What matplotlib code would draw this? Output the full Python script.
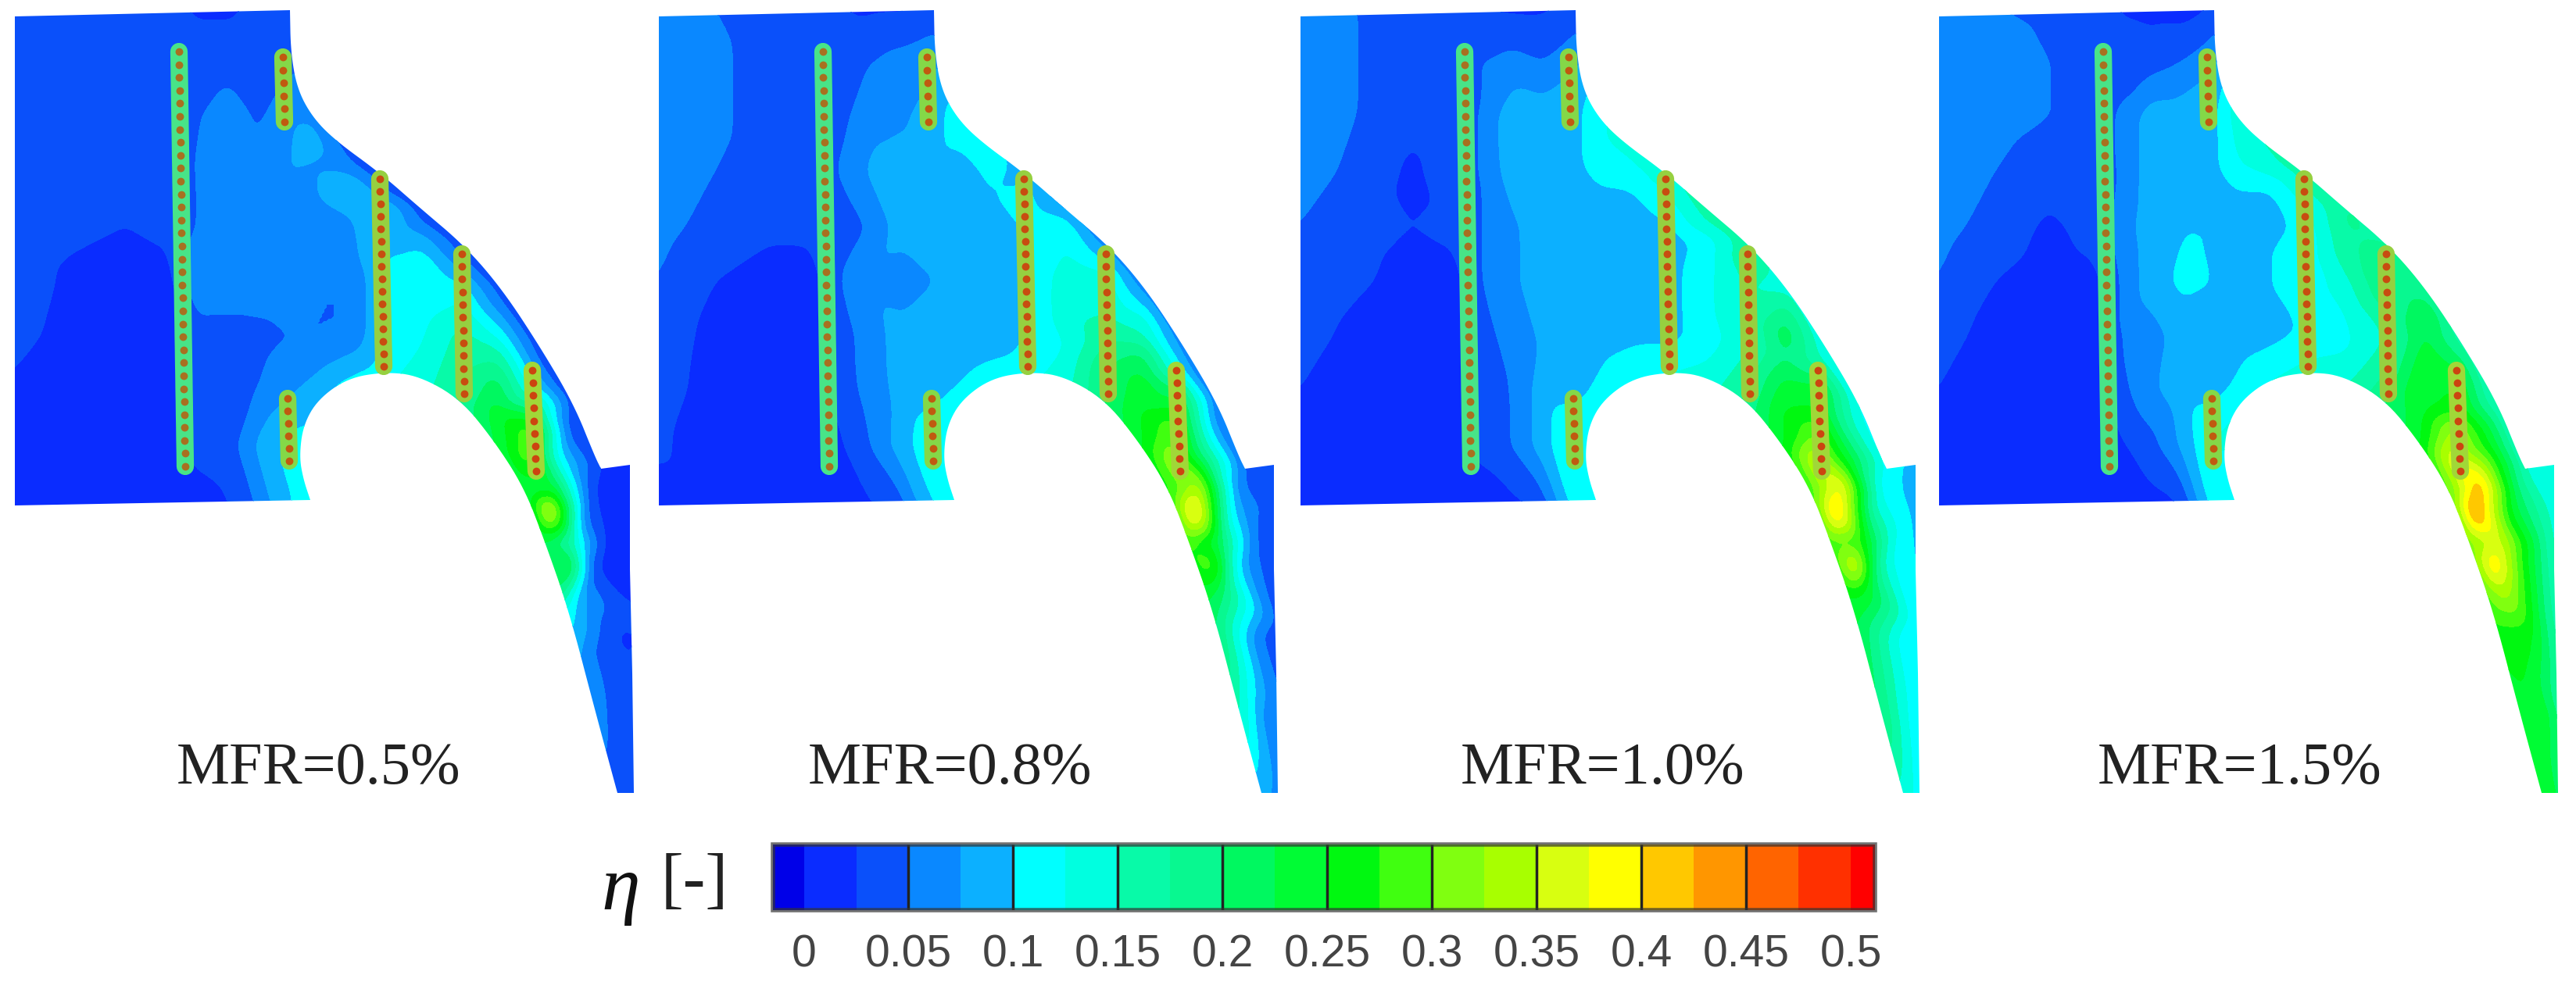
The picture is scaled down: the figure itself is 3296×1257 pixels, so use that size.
import numpy as np
import matplotlib
matplotlib.use('Agg')
import matplotlib.pyplot as plt
import matplotlib.tri as mtri
from matplotlib.colors import ListedColormap, BoundaryNorm
from matplotlib.patches import Polygon

# Cases
mfr_labels = ['MFR=0.5%', 'MFR=0.8%', 'MFR=1.0%', 'MFR=1.5%']
panel_offsets = [0, 824, 1645, 2462]
label_centers = [408, 1216, 2051, 2866]

# Colour bar
levels = [0, 0.025, 0.05, 0.075, 0.1, 0.125, 0.15, 0.175, 0.2, 0.225, 0.25,
          0.275, 0.3, 0.325, 0.35, 0.375, 0.4, 0.425, 0.45, 0.475, 0.5]
band_colors = ['#0a2cff', '#0a50fa', '#0a88ff', '#0cb0ff', '#00ffff', '#00ffe0',
               '#08faa8', '#08f890', '#00f860', '#00fc34', '#00f810', '#40ff10',
               '#80ff10', '#a8ff00', '#d8ff10', '#ffff00', '#ffc800', '#ff9600',
               '#ff6400', '#ff3000']
under_color = '#0000e8'
over_color = '#ff0000'
tick_values = [0, 0.05, 0.1, 0.15, 0.2, 0.25, 0.3, 0.35, 0.4, 0.45, 0.5]
tick_labels = ['0', '0.05', '0.1', '0.15', '0.2', '0.25', '0.3', '0.35', '0.4', '0.45', '0.5']

# Endwall outline, in pixels of the first panel: two curved sides and the corners between them
suction_side = [(371, 13), (372, 66), (380, 113), (399, 149), (428, 179), (487, 222),
                (536, 265), (595, 315), (643, 371), (691, 444), (734, 517), (761, 584), (769, 600)]
outlet_corners = [(806, 595), (806, 729), (809, 862), (811, 1015)]
pressure_side = [(790, 1015), (761, 908), (728, 782), (696, 690), (670, 623), (632, 564),
                 (589, 511), (536, 481), (493, 476), (445, 484), (407, 511), (388, 544),
                 (383, 584), (388, 613), (397, 640)]
inlet_corners = [(19, 647), (19, 21)]

# Sample positions: inlet block (columns, rows) and passage stations (suction, pressure end)
block_x = [15, 90, 160, 222, 250, 290, 330, 370]
block_y = [8, 80, 150, 220, 290, 360, 430, 500, 570, 655]
station_suction = [(399, 149), (445, 190), (490, 224), (540, 268), (595, 315), (643, 371),
                   (691, 444), (734, 517), (769, 600), (806, 660), (808, 800), (810, 910),
                   (811, 1018)]
station_pressure = [(400, 520), (445, 484), (493, 476), (540, 487), (589, 511), (632, 564),
                    (670, 623), (696, 690), (718, 755), (728, 782), (745, 845), (770, 935),
                    (790, 1018)]
across = [-0.04, 0.08, 0.18, 0.3, 0.45, 0.6, 0.8, 1.04]

# Effectiveness
block_05 = [[.04, .04, .035, .03, .02, .02, .03, .04],
            [.04, .04, .04, .04, .04, .04, .04, .045],
            [.04, .04, .03, .04, .045, .07, .045, .07],
            [.04, .04, .03, .04, .05, .065, .07, .075],
            [.04, .03, .025, .03, .05, .07, .05, .065],
            [.04, .02, .015, .02, .07, .065, .07, .07],
            [.035, .015, .012, .015, .04, .04, .04, .05],
            [.02, .012, .012, .015, .04, .04, .05, .07],
            [.015, .012, .012, .015, .03, .035, .08, .11],
            [.012, .012, .012, .012, .015, .02, .05, .1]]
passage_05 = [[.06, .09, .07, .065, .05, .05, .05, .1],
              [.03, .06, .11, .07, .065, .05, .05, .11],
              [.02, .05, .11, .1, .1, .1, .1, .12],
              [.025, .05, .09, .115, .125, .115, .125, .14],
              [.025, .045, .08, .115, .14, .16, .17, .18],
              [.025, .05, .08, .115, .17, .21, .24, .22],
              [.025, .045, .07, .11, .2, .3, .3, .22],
              [.025, .03, .04, .07, .12, .22, .38, .22],
              [.02, .02, .02, .03, .06, .13, .25, .2],
              [.01, .005, .005, .005, .015, .03, .08, .12],
              [.03, .02, .02, .025, .03, .04, .05, .08],
              [.03, .03, .03, .03, .035, .04, .05, .06],
              [.03, .03, .03, .03, .03, .03, .035, .04]]

block_08 = [[.05, .05, .04, .03, .025, .02, .02, .03],
            [.06, .055, .04, .04, .04, .05, .06, .07],
            [.065, .055, .04, .04, .04, .07, .07, .09],
            [.065, .05, .04, .04, .05, .08, .09, .09],
            [.06, .04, .03, .03, .045, .05, .09, .09],
            [.05, .025, .015, .02, .05, .07, .05, .075],
            [.045, .015, .012, .015, .04, .06, .09, .09],
            [.04, .012, .012, .015, .035, .06, .085, .09],
            [.03, .012, .012, .015, .02, .05, .09, .12],
            [.012, .012, .012, .012, .015, .02, .035, .1]]
passage_08 = [[.11, .11, .07, .09, .085, .09, .08, .12],
              [.11, .12, .1, .09, .09, .09, .08, .12],
              [.08, .11, .11, .1, .1, .1, .1, .12],
              [.06, .115, .125, .13, .14, .14, .125, .14],
              [.05, .09, .13, .14, .15, .17, .2, .2],
              [.05, .09, .13, .15, .21, .24, .25, .24],
              [.05, .08, .11, .2, .26, .3, .33, .26],
              [.04, .06, .09, .14, .22, .34, .43, .28],
              [.04, .05, .06, .09, .14, .21, .3, .24],
              [.03, .03, .035, .05, .07, .11, .2, .22],
              [.04, .04, .04, .05, .07, .1, .15, .2],
              [.05, .05, .05, .06, .07, .09, .11, .15],
              [.07, .07, .07, .07, .07, .07, .08, .09]]

block_10 = [[.05, .05, .04, .035, .025, .02, .02, .03],
            [.07, .05, .04, .04, .05, .06, .05, .07],
            [.07, .05, .03, .04, .05, .095, .09, .09],
            [.06, .045, .02, .04, .05, .09, .09, .09],
            [.05, .035, .025, .03, .05, .07, .09, .09],
            [.05, .03, .015, .02, .05, .07, .09, .09],
            [.04, .015, .012, .015, .04, .06, .08, .09],
            [.025, .012, .012, .015, .04, .05, .09, .09],
            [.015, .012, .012, .015, .03, .05, .09, .13],
            [.012, .012, .012, .012, .012, .015, .03, .11]]
passage_10 = [[.12, .12, .11, .09, .09, .09, .09, .12],
              [.14, .12, .1, .09, .09, .09, .09, .13],
              [.15, .13, .11, .09, .09, .09, .09, .13],
              [.17, .15, .11, .115, .12, .12, .115, .14],
              [.17, .18, .16, .15, .15, .14, .16, .18],
              [.13, .17, .2, .22, .2, .23, .25, .24],
              [.12, .14, .18, .24, .25, .3, .36, .27],
              [.11, .13, .15, .2, .26, .39, .44, .28],
              [.11, .11, .12, .14, .2, .27, .38, .25],
              [.09, .1, .11, .11, .13, .17, .25, .24],
              [.1, .1, .11, .11, .13, .15, .18, .22],
              [.1, .11, .11, .12, .13, .15, .17, .2],
              [.11, .11, .11, .12, .12, .13, .14, .15]]

block_15 = [[.05, .05, .045, .04, .02, .015, .012, .025],
            [.065, .06, .05, .045, .05, .04, .05, .07],
            [.065, .06, .05, .045, .05, .09, .09, .09],
            [.065, .05, .035, .04, .05, .09, .095, .09],
            [.06, .04, .02, .035, .06, .09, .1, .1],
            [.05, .025, .012, .02, .05, .09, .105, .1],
            [.04, .012, .012, .015, .05, .06, .09, .095],
            [.025, .012, .012, .015, .04, .07, .09, .09],
            [.015, .012, .012, .012, .02, .04, .08, .13],
            [.012, .012, .012, .01, .01, .015, .02, .11]]
passage_15 = [[.14, .13, .12, .09, .09, .09, .09, .13],
              [.16, .14, .1, .09, .1, .1, .09, .13],
              [.17, .15, .12, .11, .11, .11, .105, .14],
              [.18, .18, .17, .16, .14, .125, .12, .15],
              [.17, .2, .21, .2, .17, .15, .17, .2],
              [.17, .21, .24, .23, .24, .25, .24, .24],
              [.15, .2, .23, .25, .27, .34, .38, .28],
              [.13, .18, .22, .25, .33, .43, .46, .3],
              [.14, .17, .2, .23, .28, .36, .42, .28],
              [.13, .15, .18, .22, .25, .3, .35, .28],
              [.15, .18, .2, .23, .25, .26, .27, .25],
              [.18, .2, .22, .24, .25, .25, .25, .24],
              [.2, .22, .24, .25, .25, .25, .25, .23]]

block_fields = [block_05, block_08, block_10, block_15]
passage_fields = [passage_05, passage_08, passage_10, passage_15]

# Film cooling holes, in pixels of the first panel
long_x = [229, 229.3, 229.5, 229.8, 230, 230.3, 230.5, 230.8, 231, 231.3, 231.5, 231.8, 232, 232.3,
          232.5, 232.8, 233, 233.3, 233.5, 233.8, 234, 234.3, 234.5, 234.8, 235, 235.3, 235.5,
          235.8, 236, 236.3, 236.5, 236.8, 237]
long_y = [66, 83, 99, 116, 132, 149, 166, 182, 199, 215, 232, 249, 265, 282, 298, 315, 332,
          348, 365, 381, 398, 415, 431, 448, 464, 481, 498, 514, 531, 547, 564, 580, 597]
top_x = [362, 362.4, 362.8, 363.2, 363.6, 364]
top_y = [73, 90, 106, 123, 139, 156]
bottom_x = [368, 368.4, 368.8, 369.2, 369.6, 370]
bottom_y = [510, 526, 542, 558, 574, 590]
mid_x = [486, 486.3, 486.7, 487, 487.3, 487.7, 488, 488.3, 488.7, 489, 489.3, 489.7, 490, 490.3,
         490.7, 491]
mid_y = [229, 245, 261, 277, 293, 309, 325, 341, 357, 373, 389, 405, 421, 437, 453, 469]
rear_x = [591, 591.3, 591.5, 591.8, 592, 592.3, 592.7, 593, 593.2, 593.5, 593.7, 594]
rear_y = [325, 341, 357, 374, 390, 406, 423, 439, 455, 472, 488, 504]
aft_x = [681, 681.6, 682.2, 682.8, 683.4, 684, 684.7, 685.3, 686]
aft_y = [474, 490, 506, 522, 539, 555, 571, 587, 603]
hole_rows = [(long_x, long_y), (top_x, top_y), (bottom_x, bottom_y),
             (mid_x, mid_y), (rear_x, rear_y), (aft_x, aft_y)]
strip_colors = ['#48e488', '#84d848', '#84d848', '#96d040', '#96d040', '#a0d838']
dot_colors = ['#a87020', '#c05a10', '#c05a10', '#c84c10', '#c84c10', '#cc4410']


def round_off(points, passes=3):
    # corner cutting, keeps the two end points
    pts = np.array(points, dtype=float)
    for _ in range(passes):
        q = 0.75 * pts[:-1] + 0.25 * pts[1:]
        r = 0.25 * pts[:-1] + 0.75 * pts[1:]
        mid = np.empty((2 * len(q), 2))
        mid[0::2] = q
        mid[1::2] = r
        pts = np.vstack([pts[0], mid, pts[-1]])
    return pts


def soften(z, width=7, passes=2):
    # box filter along both grid directions, takes the creases of the sample mesh out
    kernel = np.ones(width) / width
    pad = width // 2
    for _ in range(passes):
        for axis in (0, 1):
            z = np.apply_along_axis(
                lambda a: np.convolve(np.pad(a, pad, mode='edge'), kernel, mode='valid'), axis, z)
    return z


plt.rcParams['font.family'] = ['Liberation Serif', 'DejaVu Serif']

fig = plt.figure(figsize=(32.96, 12.57), dpi=100)
ax = fig.add_axes([0, 0, 1, 1])
ax.set_xlim(0, 3296)
ax.set_ylim(1257, 0)
ax.axis('off')

cmap = ListedColormap(band_colors)
cmap.set_under(under_color)
cmap.set_over(over_color)
norm = BoundaryNorm(levels, cmap.N)

# Sample mesh shared by all four panels
bx, by = np.meshgrid(block_x, block_y)
suction = np.array(station_suction, dtype=float)
pressure = np.array(station_pressure, dtype=float)
frac = np.array(across)[None, :, None]
mesh = suction[:, None, :] + frac * (pressure - suction)[:, None, :]
node_x = np.concatenate([bx.ravel(), mesh[:, :, 0].ravel()])
node_y = np.concatenate([by.ravel(), mesh[:, :, 1].ravel()])

outline = np.vstack([round_off(suction_side), outlet_corners, round_off(pressure_side), inlet_corners])

tri = mtri.Triangulation(node_x, node_y)
grid_x = np.arange(10, 820, 3.0)
grid_y = np.arange(9, 1020, 3.0)
gx, gy = np.meshgrid(grid_x, grid_y)

cs = None
for i, off in enumerate(panel_offsets):
    eta = np.concatenate([np.array(block_fields[i]).ravel(), np.array(passage_fields[i]).ravel()])
    raw = mtri.LinearTriInterpolator(tri, eta)(gx, gy)
    field = np.empty(gx.shape)
    # points just outside the sample hull take the nearest value in their row
    for r in range(len(grid_y)):
        ok = ~np.ma.getmaskarray(raw[r])
        if ok.any():
            field[r] = np.interp(grid_x, grid_x[ok], raw[r].data[ok])
        else:
            field[r] = field[r - 1]
    field = soften(field)
    cs = ax.contourf(grid_x + off, grid_y, field, levels=levels, cmap=cmap, norm=norm, extend='both')
    shape = Polygon(outline + [off, 0], closed=True, transform=ax.transData, fc='none', ec='none')
    ax.add_patch(shape)
    cs.set_clip_path(shape)

    for (hx, hy), col, dot in zip(hole_rows, strip_colors, dot_colors):
        hx = np.array(hx) + off
        ax.plot(hx, hy, color=col, lw=16, solid_capstyle='round', zorder=3)
        ax.scatter(hx, hy, s=50, marker='o', color=dot, linewidths=0, zorder=4)

    ax.text(label_centers[i], 984, mfr_labels[i], ha='center', va='center',
            fontsize=55, color='#222222')

# Colour bar with short end bands
cax = fig.add_axes([989 / 3296, 1 - 1165 / 1257, (2399 - 989) / 3296, 84 / 1257])
cbar = fig.colorbar(cs, cax=cax, orientation='horizontal', spacing='proportional',
                    extend='both', extendrect=True, extendfrac=[0.0295, 0.023])
cbar.set_ticks(tick_values, labels=tick_labels)
cbar.ax.minorticks_off()
cbar.ax.tick_params(length=0, pad=22, labelsize=41, labelcolor='#444444')
for lab in cbar.ax.get_xticklabels():
    lab.set_family(['Liberation Sans', 'DejaVu Sans'])
cbar.ax.vlines(tick_values[1:-1], 0, 1, color='#222222', lw=2.5)
cbar.outline.set_edgecolor('#333333')
cbar.outline.set_linewidth(4)
cbar.outline.set_alpha(0.7)

ax.text(794, 1140, '\u03b7', ha='center', va='center', fontsize=72, style='italic', color='#111111')
ax.text(889, 1131, '[-]', ha='center', va='center', fontsize=62, color='#222222')

plt.savefig('out.png', dpi=100)
